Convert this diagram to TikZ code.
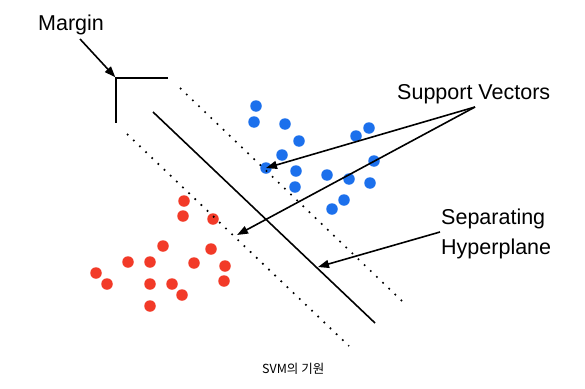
\documentclass[tikz,border=0pt]{standalone}
\usepackage{fontspec}
\setmainfont{Liberation Sans}
\newfontfamily\kofont{Noto Sans CJK KR}
\usepackage{tikz}
\usetikzlibrary{arrows.meta}

\definecolor{svblue}{RGB}{28,112,236}
\definecolor{svred}{RGB}{242,58,40}

\tikzset{
  blue dot/.style={circle, fill=svblue, inner sep=0, minimum size=11.5pt},
  red dot/.style={circle, fill=svred, inner sep=0, minimum size=11.5pt},
  label text/.style={inner sep=0, anchor=base west, font=\fontsize{21.5}{25}\selectfont},
  margin line/.style={line width=1.7pt, dash pattern=on 1.7pt off 6.8pt},
  pointer/.style={line width=1.6pt, -{Triangle[length=11pt,width=8pt]}}
}

\begin{document}
\begin{tikzpicture}[x=1pt, y=-1pt]
                \useasboundingbox (0,0) rectangle (585,388);

                \node (margin) [label text] at (38,30) {Margin};
                \node (sv) [label text] at (397,99) {Support Vectors};
                \node (sep) [label text] at (441,224) {Separating};
                \node (hyp) [label text] at (441,254) {Hyperplane};
                \node (cap) [inner sep=0, anchor=base west, font=\kofont\fontsize{12.5}{14}\selectfont] at (262,373) {SVM의 기원};

                \node (b1) [blue dot] at (256,106) {};
                \node (b2) [blue dot] at (254,122) {};
                \node (b3) [blue dot] at (285,124) {};
                \node (b4) [blue dot] at (299,141) {};
                \node (b5) [blue dot] at (282,155) {};
                \node (b6) [blue dot] at (266,168) {};
                \node (b7) [blue dot] at (296,171) {};
                \node (b8) [blue dot] at (295,187) {};
                \node (b9) [blue dot] at (327,175) {};
                \node (b10) [blue dot] at (349,179) {};
                \node (b11) [blue dot] at (356,136) {};
                \node (b12) [blue dot] at (369,128) {};
                \node (b13) [blue dot] at (374,161) {};
                \node (b14) [blue dot] at (370,183) {};
                \node (b15) [blue dot] at (344,200) {};
                \node (b16) [blue dot] at (332,209) {};

                \node (r1) [red dot] at (184,201) {};
                \node (r2) [red dot] at (183,216) {};
                \node (r3) [red dot] at (213,219) {};
                \node (r4) [red dot] at (163,246) {};
                \node (r5) [red dot] at (211,249) {};
                \node (r6) [red dot] at (128,262) {};
                \node (r7) [red dot] at (150,262) {};
                \node (r8) [red dot] at (194,263) {};
                \node (r9) [red dot] at (225,266) {};
                \node (r10) [red dot] at (96,273) {};
                \node (r11) [red dot] at (107,284) {};
                \node (r12) [red dot] at (150,284) {};
                \node (r13) [red dot] at (172,284) {};
                \node (r14) [red dot] at (224,281) {};
                \node (r15) [red dot] at (182,295) {};
                \node (r16) [red dot] at (150,306) {};

                \coordinate (corner) at (116,78);
                \coordinate (cornerR) at (168,78);
                \coordinate (cornerD) at (116,123);
                \coordinate (upA) at (180,88);
                \coordinate (upB) at (402,301);
                \coordinate (lowA) at (127,134);
                \coordinate (lowB) at (349,346);
                \coordinate (hypA) at (153,112);
                \coordinate (hypB) at (375,323);
                \coordinate (lowHit) at (237,235);
                \coordinate (hypHit) at (318,267);
                \coordinate (svFoot) at (475,107);
                \coordinate (marginFoot) at (80,39);
                \coordinate (sepFoot) at (440,232);

                \draw [line width=1.6pt] (cornerR) -- (corner) -- (cornerD);
                \draw [margin line] (upA) -- (upB);
                \draw [margin line] (lowA) -- (lowB);
                \draw [line width=1.6pt] (hypA) -- (hypB);

                \draw [pointer, shorten >=1pt] (marginFoot) -- (corner);
                \draw [pointer] (svFoot) -- (b6.center);
                \draw [pointer] (svFoot) -- (lowHit);
                \draw [pointer] (sepFoot) -- (hypHit);
            \end{tikzpicture}
\end{document}
